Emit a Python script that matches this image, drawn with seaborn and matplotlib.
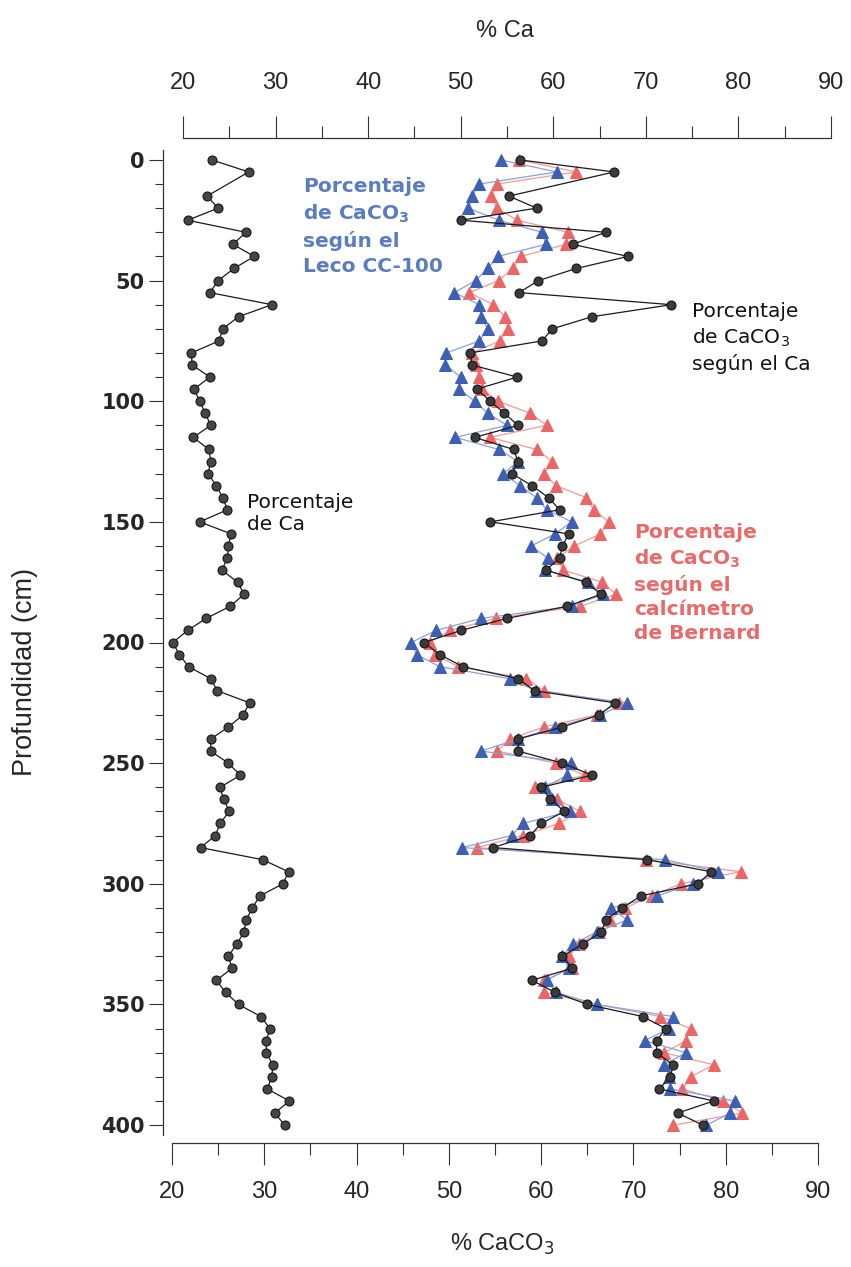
import numpy as np
import pandas as pd
import matplotlib
matplotlib.use("Agg")
import matplotlib.pyplot as plt
from matplotlib.ticker import MultipleLocator
import seaborn as sns

# ── data ──────────────────────────────────────────────────────
depth = list(range(0, 405, 5))                 # triangles, every 5 cm
depth_ca = [d for d in depth if d != 10]       # Ca series has no 10 cm sample

ca_pct = [
    23.1, 27.1,
    22.6, 23.8, 20.5, 26.8, 25.4, 27.7, 25.5, 23.8, 22.9, 29.6,
    26.0, 24.3, 23.9, 20.9, 21.0, 22.9, 21.2, 21.8, 22.4, 23.0,
    21.1, 22.8, 23.0, 22.7, 23.6, 24.3, 24.8, 21.8, 25.2, 24.9,
    24.8, 24.2, 25.9, 26.6, 25.1, 22.5, 20.5, 18.9, 19.6, 20.6,
    23.0, 23.7, 27.2, 26.5, 24.9, 23.0, 23.0, 24.9, 26.2, 24.0,
    24.4, 25.0, 24.0, 23.5, 21.9, 28.6, 31.4, 30.8, 28.3, 27.5,
    26.8, 26.6, 25.8, 24.9, 25.3, 23.6, 24.6, 26.0, 28.4, 29.4,
    29.0, 29.0, 29.7, 29.6, 29.1, 31.5, 29.9, 31.0,
]

caco3_ca = [
    57.7, 67.9,
    56.5, 59.5, 51.3, 67.0, 63.4, 69.4, 63.8, 59.7, 57.6, 74.1,
    65.5, 61.2, 60.1, 52.3, 52.5, 57.4, 53.0, 54.5, 56.0, 57.5,
    52.8, 57.0, 57.5, 56.8, 59.0, 60.8, 62.0, 54.5, 63.0, 62.3,
    62.0, 60.5, 64.8, 66.5, 62.8, 56.3, 51.3, 47.3, 49.0, 51.5,
    57.5, 59.3, 68.0, 66.3, 62.3, 57.5, 57.5, 62.3, 65.5, 60.0,
    61.0, 62.5, 60.0, 58.8, 54.8, 71.5, 78.4, 77.0, 70.8, 68.8,
    67.0, 66.5, 64.5, 62.3, 63.3, 59.0, 61.5, 65.0, 71.0, 73.5,
    72.5, 72.5, 74.3, 74.0, 72.8, 78.7, 74.8, 77.5,
]

caco3_leco = [
    55.6, 61.7, 53.3, 52.5, 52.1, 55.4, 60.1, 60.5, 55.3, 54.2,
    52.9, 50.6, 53.3, 53.5, 54.2, 53.3, 49.7, 49.6, 51.3, 51.1,
    52.8, 54.2, 56.3, 50.7, 55.4, 57.5, 55.9, 57.7, 59.5, 60.6,
    63.3, 61.5, 58.9, 60.7, 60.4, 65.1, 66.7, 63.3, 53.5, 48.6,
    45.9, 46.5, 49.0, 56.6, 59.4, 69.3, 66.4, 61.5, 57.5, 53.5,
    63.2, 62.8, 60.4, 61.2, 63.1, 58.0, 56.8, 51.4, 73.4, 79.2,
    76.4, 72.6, 67.6, 69.3, 66.0, 63.4, 62.3, 63.0, 60.6, 61.6,
    66.0, 74.3, 73.9, 71.2, 75.7, 73.3, 73.9, 74.0, 81.0, 80.5,
    77.9,
]

caco3_bernard = [
    57.6, 63.8, 55.2, 54.6, 55.2, 57.4, 62.9, 62.7, 57.8, 56.9,
    55.4, 52.2, 54.8, 56.1, 56.4, 55.5, 52.5, 52.9, 53.3, 53.6,
    55.3, 58.8, 60.6, 54.4, 59.5, 61.2, 60.3, 61.6, 64.9, 65.7,
    67.3, 66.4, 63.6, 61.7, 62.4, 66.6, 68.1, 64.2, 55.1, 50.1,
    47.9, 48.5, 51.0, 58.4, 60.3, 68.4, 66.0, 60.3, 56.6, 55.2,
    61.6, 64.7, 59.3, 61.7, 64.2, 61.9, 58.0, 53.0, 71.4, 81.6,
    75.1, 72.0, 69.1, 67.4, 66.3, 64.1, 63.0, 63.3, 60.3, 60.3,
    66.0, 72.9, 76.2, 75.7, 73.3, 78.7, 76.2, 75.3, 79.7, 81.8,
    74.3,
]

x_ticks = [20, 30, 40, 50, 60, 70, 80, 90]
y_ticks = [0, 50, 100, 150, 200, 250, 300, 350, 400]

tri = pd.DataFrame({"depth": depth, "leco": caco3_leco, "bernard": caco3_bernard})
cal = pd.DataFrame({"depth": depth_ca, "ca": ca_pct, "caco3": caco3_ca})

# ── colours ───────────────────────────────────────────────────
BLUE = "#3d5fb4"
BLUE_LINE = "#8aa2d8"
BLUE_TXT = "#5a7dbf"
RED = "#ec6666"
RED_LINE = "#f29a9a"
RED_TXT = "#ea6a6a"

sns.set_style("ticks")
plt.rcParams["font.family"] = ["Liberation Sans Narrow", "Liberation Sans", "DejaVu Sans"]

W, H = 851, 1267
fig = plt.figure(figsize=(W / 100, H / 100), dpi=100)
ax = fig.add_axes([163 / W, 1 - 1135 / H, (831 - 163) / W, (1135 - 150) / H])

# ── CaCO3 series (bottom axis) ────────────────────────────────
sns.lineplot(data=tri, x="bernard", y="depth", orient="y", sort=False, estimator=None,
             ax=ax, color=RED_LINE, linewidth=0.9, marker="^", markersize=8.5,
             markerfacecolor=RED, markeredgecolor=RED, zorder=3)
sns.lineplot(data=tri, x="leco", y="depth", orient="y", sort=False, estimator=None,
             ax=ax, color=BLUE_LINE, linewidth=0.9, marker="^", markersize=8.5,
             markerfacecolor=BLUE, markeredgecolor=BLUE, zorder=4)
sns.lineplot(data=cal, x="caco3", y="depth", orient="y", sort=False, estimator=None,
             ax=ax, color="#1a1a1a", linewidth=0.9, marker="o", markersize=6.5,
             markerfacecolor="#3a3a3a", markeredgecolor="#111111", zorder=5)

ax.set_xlim(19.02, 91.4)
ax.set_ylim(404.1, -4.1)

# ── Ca series (top axis) ──────────────────────────────────────
ax2 = ax.twiny()
sns.lineplot(data=cal, x="ca", y="depth", orient="y", sort=False, estimator=None,
             ax=ax2, color="#1a1a1a", linewidth=0.9, marker="o", markersize=6.5,
             markerfacecolor="#454545", markeredgecolor="#111111")
ax2.set_xlim(17.84, 90)
ax2.set_ylim(404.1, -4.1)

# ── spines / ticks ────────────────────────────────────────────
for s in ["top", "right"]:
    ax.spines[s].set_visible(False)
for s in ["left", "right", "bottom"]:
    ax2.spines[s].set_visible(False)
ax.spines["bottom"].set_position(("outward", 6))
ax.spines["bottom"].set_bounds(20, 90)
ax2.spines["top"].set_position(("outward", 9))
ax2.spines["top"].set_bounds(20, 90)
for sp in [ax.spines["bottom"], ax.spines["left"], ax2.spines["top"]]:
    sp.set_linewidth(0.9)
    sp.set_color("#333333")

ax.set_xticks(x_ticks)
ax.xaxis.set_minor_locator(MultipleLocator(5))
ax2.set_xticks(x_ticks)
ax2.xaxis.set_minor_locator(MultipleLocator(5))
ax2.set_xlim(17.84, 90)
ax.set_xlim(19.02, 91.4)
ax.set_yticks(y_ticks)
ax.yaxis.set_minor_locator(MultipleLocator(10))

ax.tick_params(axis="x", which="major", length=16, width=0.8, pad=11, labelsize=17, color="#333333")
ax.tick_params(axis="x", which="minor", length=8.5, width=0.8, color="#333333")
ax2.tick_params(axis="x", which="major", length=16, width=0.8, pad=15, labelsize=17, color="#333333")
ax2.tick_params(axis="x", which="minor", length=8.5, width=0.8, color="#333333")
ax.tick_params(axis="y", which="major", length=10, width=0.8, pad=3, labelsize=15, color="#333333")
ax.tick_params(axis="y", which="minor", length=5.5, width=0.8, color="#333333")

for lbl in ax.get_yticklabels():
    lbl.set_fontfamily("DejaVu Sans")
    lbl.set_fontweight("bold")

ax.set_xlabel("% CaCO$_3$", fontsize=17)
ax2.set_xlabel("% Ca", fontsize=17)
ax.set_ylabel("Profundidad (cm)", fontsize=19.5)
ax.xaxis.set_label_coords((502 - 163) / 668, (1135 - 1232) / 985)
ax2.xaxis.set_label_coords((505 - 163) / 668, (1135 - 37) / 985)
ax.yaxis.set_label_coords((38 - 163) / 668, (1135 - 672) / 985)
ax.grid(False)
ax2.grid(False)

# ── annotations ───────────────────────────────────────────────
def label(x, y, txt, color, weight, spacing):
    fig.text(x / W, 1 - y / H, txt, color=color, fontweight=weight, fontsize=14.5,
             family="DejaVu Sans", va="top", ha="left", linespacing=spacing)

label(303, 177, "Porcentaje\nde CaCO$_\\mathbf{3}$\nsegún el\nLeco CC-100", BLUE_TXT, "bold", 1.38)
label(692, 302, "Porcentaje\nde CaCO$_3$\nsegún el Ca", "#111111", "normal", 1.32)
label(247, 493, "Porcentaje\nde Ca", "#111111", "normal", 1.2)
label(634, 523, "Porcentaje\nde CaCO$_\\mathbf{3}$\nsegún el\ncalcímetro\nde Bernard", RED_TXT, "bold", 1.33)

fig.savefig("out.png", dpi=100)
